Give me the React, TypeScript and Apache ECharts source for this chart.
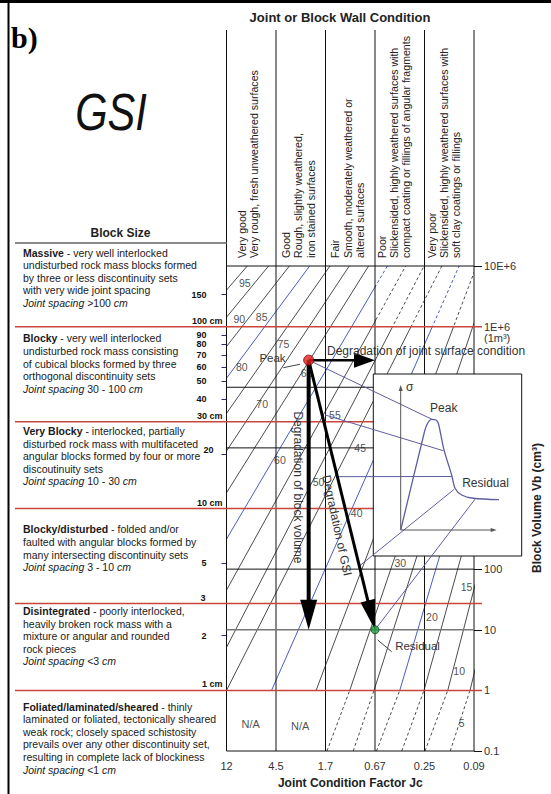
import React, { useEffect, useRef } from 'react';
import * as echarts from 'echarts';

// ---------------- DATA ----------------
const jcLabels = ['12', '4.5', '1.7', '0.67', '0.25', '0.09'];
const columnEdges = [0, 1, 2, 3, 4, 5];
const columnHeaders = [
  ['Very good', 'Very rough, fresh unweathered surfaces'],
  ['Good', 'Rough, slightly weathered,', 'iron stained surfaces'],
  ['Fair', 'Smooth, moderately weathered or', 'altered surfaces'],
  ['Poor', 'Slickensided, highly weathered surfaces with', 'compact coating or fillings of angular fragments'],
  ['Very poor', 'Slickensided, highly weathered surfaces with', 'soft clay coatings or fillings'],
];

// GSI contour lines: column position (Jc axis, in column units) where each line meets Vb = 1 and Vb = 1E+7
const gsiLevels = [95, 90, 85, 80, 75, 70, 65, 60, 55, 50, 45, 40, 35, 30, 25, 20, 15, 10, 5];
const gsiColAtVb1 = [-6.98, -6.19, -5.42, -4.67, -3.93, -3.21, -2.5, -1.8, -1.12, -0.45, 0.0, 0.91, 1.81, 2.49, 2.98, 3.5, 3.99, 4.47, 4.92];
const gsiColAtVb1e7 = [0.42, 0.85, 1.27, 1.68, 2.09, 2.48, 2.87, 3.25, 3.62, 3.99, 4.35, 4.7, 5.05, 5.39, 5.72, 6.05, 6.37, 6.69, 7.0];
// Foliated row (Vb 0.1 - 1): dashed lines
const foliatedLevels = [30, 25, 20, 15, 10, 5];
const foliatedColAtVb01 = [2.03, 2.56, 3.03, 3.54, 4.01, 4.52];
const foliatedColAtVb1 = [2.49, 2.98, 3.5, 3.99, 4.47, 4.92];

// GSI value labels
const gsiLabelValues = [95, 90, 85, 80, 75, 70, 65, 60, 55, 50, 45, 40, 30, 20, 15, 10, 5];
const gsiLabelCol = [0.37, 0.26, 0.71, 0.31, 1.15, 0.72, 1.62, 1.08, 2.19, 1.86, 2.7, 2.63, 3.51, 4.15, 4.85, 4.7, 4.75];
const gsiLabelVb = [5.19e6, 1.34e6, 1.46e6, 2.13e5, 5.16e5, 5.24e4, 1.74e5, 6310, 3.48e4, 2770, 9840, 853, 125, 16.4, 51.3, 2.11, 0.286];

const naCol = [0.49, 1.49];
const naVb = [0.28, 0.26];
const naText = ['N/A', 'N/A'];

// Block size (joint spacing, cm) axis, Vb = s^3
const spacingTicks = [150, 100, 90, 80, 70, 60, 50, 40, 30, 20, 10, 5, 3, 2, 1];
const spacingLabels = ['150', '100 cm', '90', '80', '70', '60', '50', '40', '30 cm', '20', '10 cm', '5', '3', '2', '1 cm'];
const classBoundaryCm = [100, 30, 10, 3, 1];

// Block volume axis (cm3)
const volumeTicks = [1e7, 1e6, 100, 10, 1, 0.1];
const volumeLabels = ['10E+6', '1E+6', '100', '10', '1', '0.1'];
const volumeGridLines = [1e7, 1e5, 1e4, 100, 0.1];
const volumeGrayLines = [10];

// Peak and residual states
const peakCol = 1.66;
const peakVb = 2.8e5;
const residualCol = 3.0;
const residualVb = 10;

// Projection lines from the chart to the stress-strain inset (main-chart coordinates)
const projFromCol = [1.66, 1.99, 2.22, 2.67, 3.0];
const projFromVb = [2.8e5, 3.5e4, 3350, 110, 10];
const projToCol = [4.15, 4.38, 4.55, 4.6, 5.02];
const projToVb = [2.96e4, 8980, 3370, 2075, 1420];

// Inset stress-strain sketch (arbitrary units)
const insetStrain = [0, 23.5, 27.1, 32.3, 36.8, 39.2, 45.1, 53.1, 56.6, 63.5, 75.6, 108.6];
const insetStress = [0, 64.3, 72.4, 76.3, 75.9, 73.6, 55.2, 37.9, 28.8, 24.1, 21.9, 20.8];

// ---------------- LAYOUT / STYLE ----------------
const FONT = '"Liberation Sans", Arial, Helvetica, sans-serif';
const X0 = 226.5;
const COLW = 49.5;
const YT = 266;
const DEC = 60.625;
const HEADER_TOP = 30;
const BLUE = '#4a5cc4';
const INK = '#1e1e1e';
const RED = '#c9463d';
const PURPLE = '#5d5da3';
const lg = (v: number) => Math.log10(v);

function arrow(api: any, a: number[], b: number[], lw: number, hl: number, hw: number, color: string) {
  const p1 = api.coord(a);
  const p2 = api.coord(b);
  const dx = p2[0] - p1[0];
  const dy = p2[1] - p1[1];
  const len = Math.hypot(dx, dy) || 1;
  const ux = dx / len, uy = dy / len;
  const nx = -uy, ny = ux;
  const bx = p2[0] - ux * hl, by = p2[1] - uy * hl;
  return {
    type: 'group',
    children: [
      { type: 'line', shape: { x1: p1[0], y1: p1[1], x2: bx + ux, y2: by + uy }, style: { stroke: color, lineWidth: lw } },
      {
        type: 'polygon',
        shape: { points: [[p2[0], p2[1]], [bx + (nx * hw) / 2, by + (ny * hw) / 2], [bx - (nx * hw) / 2, by - (ny * hw) / 2]] },
        style: { fill: color },
      },
    ],
  };
}

function buildOption() {
  const spacingVals = spacingTicks.map((s) => 3 * lg(s));
  const volumeVals = volumeTicks.map((v) => lg(v));

  const hLineData: number[][] = [];
  volumeGridLines.forEach((v) => hLineData.push([lg(v), 0]));
  volumeGrayLines.forEach((v) => hLineData.push([lg(v), 2]));
  classBoundaryCm.forEach((s) => hLineData.push([3 * lg(s), 1]));

  const gsiData = gsiLevels.map((g, i) => [g, gsiColAtVb1[i], gsiColAtVb1e7[i]]);
  const foliatedData = foliatedLevels.map((g, i) => [g, foliatedColAtVb01[i], foliatedColAtVb1[i]]);

  const gsiRender = (dashed: boolean, yLo: number, yHi: number, allowBlue: boolean) => (params: any, api: any) => {
    const g = api.value(0);
    const p1 = api.coord([api.value(1), yLo]);
    const p2 = api.coord([api.value(2), yHi]);
    const blue = allowBlue && g % 20 === 0;
    return {
      type: 'line',
      shape: { x1: p1[0], y1: p1[1], x2: p2[0], y2: p2[1] },
      style: { stroke: blue ? BLUE : INK, lineWidth: blue ? 1 : 0.8, lineDash: dashed ? [3, 2.5] : undefined },
    };
  };

  const mainArrows = [
    [peakCol, lg(peakVb), residualCol, lg(peakVb)],
    [peakCol, lg(peakVb), peakCol, lg(residualVb)],
    [peakCol, lg(peakVb), residualCol, lg(residualVb)],
  ];
  const arrowStyle = [
    { lw: 2.5, hl: 21, hw: 15 },
    { lw: 4, hl: 30, hw: 17 },
    { lw: 3, hl: 30, hw: 15 },
  ];

  // ---------- graphic (texts & frame) ----------
  const g: any[] = [];
  const text = (x: number, y: number, t: string, o: any = {}) =>
    g.push({
      type: 'text',
      x,
      y,
      z: 50,
      rotation: o.rotation || 0,
      scaleX: o.scaleX || 1,
      silent: true,
      style: {
        text: t,
        fill: o.color || '#222',
        fontFamily: o.fontFamily || FONT,
        fontSize: o.fontSize || 11,
        fontWeight: o.fontWeight || 'normal',
        fontStyle: o.fontStyle || 'normal',
        align: o.align || 'center',
        verticalAlign: o.verticalAlign || 'middle',
        lineHeight: o.lineHeight,
        rich: o.rich,
      },
    });
  const line = (x1: number, y1: number, x2: number, y2: number, color: string, lw: number) =>
    g.push({ type: 'line', z: 50, silent: true, shape: { x1, y1, x2, y2 }, style: { stroke: color, lineWidth: lw } });

  // frame
  line(0, 1.5, 551, 1.5, '#000', 3);
  line(8.5, 0, 8.5, 794, '#000', 2);
  line(15, 243, X0, 243, '#8a8a8a', 2);

  text(11, 37, 'b)', { fontFamily: '"Liberation Serif", "Times New Roman", serif', fontSize: 30, fontWeight: 'bold', align: 'left', color: '#000' });
  text(340, 17, 'Joint or Block Wall Condition', { fontSize: 13, fontWeight: 'bold', color: '#222' });
  text(111, 112, 'GSI', { fontSize: 52, fontStyle: 'italic', scaleX: 0.8, color: '#111' });
  text(120.5, 233, 'Block Size', { fontSize: 12, fontWeight: 'bold', color: '#222' });

  // column headers
  const headerX = [[241.5, 253.5], [285.5, 298, 310.5], [335, 347.5, 360], [382, 394, 406], [432, 444, 456]];
  columnHeaders.forEach((lines, ci) =>
    lines.forEach((t, li) => text(headerX[ci][li], 258, t, { rotation: Math.PI / 2, align: 'left', fontSize: 10.6, color: '#222' }))
  );

  // left block descriptions
  const rich = {
    b: { fontFamily: FONT, fontSize: 10.5, fontWeight: 'bold', lineHeight: 12.6, fill: '#1a1a1a' },
    i: { fontFamily: FONT, fontSize: 10.5, fontStyle: 'italic', lineHeight: 12.6, fill: '#1a1a1a' },
  };
  const blocks = [
    {
      y: 246.4,
      t: [
        '{b|Massive} - very well interlocked',
        'undisturbed rock mass blocks formed',
        'by three or less discontinuity sets',
        'with very wide joint spacing',
        '{i|Joint spacing} >100 {i|cm}',
      ],
    },
    {
      y: 332,
      t: [
        '{b|Blocky} - very well interlocked',
        'undisturbed rock mass consisting',
        'of cubical blocks formed by three',
        'orthogonal discontinuity sets',
        '{i|Joint spacing} 30 - 100 {i|cm}',
      ],
    },
    {
      y: 424.7,
      t: [
        '{b|Very Blocky} - interlocked, partially',
        'disturbed rock mass with multifaceted',
        'angular blocks formed by four or more',
        'discoutinuity sets',
        '{i|Joint spacing} 10 - 30 {i|cm}',
      ],
    },
    {
      y: 523,
      t: [
        '{b|Blocky/disturbed} - folded and/or',
        'faulted with angular blocks formed by',
        'many intersecting discontinuity sets',
        '{i|Joint spacing} 3 - 10 {i|cm}',
      ],
    },
    {
      y: 604.7,
      t: [
        '{b|Disintegrated} - poorly interlocked,',
        'heavily broken rock mass with a',
        'mixture or angular and rounded',
        'rock pieces',
        '{i|Joint spacing} <3 {i|cm}',
      ],
    },
    {
      y: 700.4,
      t: [
        '{b|Foliated/laminated/sheared} - thinly',
        'laminated or foliated, tectonically sheared',
        'weak rock; closely spaced schistosity',
        'prevails over any other discontinuity set,',
        'resulting in complete lack of blockiness',
        '{i|Joint spacing} <1 {i|cm}',
      ],
    },
  ];
  blocks.forEach((b) =>
    text(23, b.y, b.t.join('\n'), { align: 'left', verticalAlign: 'top', fontSize: 10.5, lineHeight: 12.6, color: '#1a1a1a', rich })
  );

  // annotations
  text(327, 351, 'Degradation of joint surface condition', { align: 'left', fontSize: 12, color: '#333' });
  text(297.5, 487.5, 'Degradation of block volume', { rotation: -Math.PI / 2, fontSize: 12, color: '#333' });
  text(337, 525.5, 'Degradation of GSI', { rotation: -1.36, fontSize: 12, color: '#333' });
  text(272.5, 357.5, 'Peak', { fontSize: 11.5, color: '#333' });
  line(283.3, 367.7, 300, 364.3, '#444', 1);
  text(417.5, 646, 'Residual', { fontSize: 11.5, color: '#333' });
  line(377.7, 640, 391.7, 651.7, '#444', 1);
  text(537, 508, 'Block Volume Vb (cm³)', { rotation: Math.PI / 2, fontSize: 12, fontWeight: 'bold', color: '#222' });
  // inset texts
  text(409.7, 387, 'σ', { fontSize: 12, color: '#333' });
  text(443.7, 408, 'Peak', { fontSize: 12, color: '#333' });
  text(485.5, 482.7, 'Residual', { fontSize: 12, color: '#333' });

  const hidden = { show: false };
  const option: any = {
    animation: false,
    backgroundColor: '#fff',
    textStyle: { fontFamily: FONT },
    grid: [
      { left: X0, top: YT, width: 5 * COLW, height: 8 * DEC },
      { left: X0, top: YT + DEC, width: 5 * COLW, height: 6 * DEC },
      { left: X0, top: YT, width: 3 * COLW, height: DEC },
      { left: X0 + 3 * COLW, top: YT, width: 2 * COLW, height: DEC },
      { left: X0 + 2 * COLW, top: YT + 7 * DEC, width: 3 * COLW, height: DEC },
      { left: 373.3, top: 374, width: 148.4, height: 182, show: true, backgroundColor: '#fff', borderColor: '#111', borderWidth: 1, z: 10 },
      { left: 400.7, top: 385, width: 96, height: 145 },
    ],
    xAxis: [
      {
        gridIndex: 0,
        type: 'value',
        min: 0,
        max: 5,
        interval: 1,
        position: 'bottom',
        axisLine: { show: false },
        axisTick: { show: false },
        splitLine: { show: false },
        axisLabel: { formatter: (v: number) => jcLabels[Math.round(v)] ?? '', fontSize: 11, color: '#333', margin: 9 },
        name: 'Joint Condition Factor Jc',
        nameLocation: 'middle',
        nameGap: 26,
        nameTextStyle: { fontWeight: 'bold', fontSize: 12, color: '#222' },
      },
      { gridIndex: 1, type: 'value', min: 0, max: 5, ...hidden },
      { gridIndex: 2, type: 'value', min: 0, max: 3, ...hidden },
      { gridIndex: 3, type: 'value', min: 3, max: 5, ...hidden },
      { gridIndex: 4, type: 'value', min: 2, max: 5, ...hidden },
      { gridIndex: 5, type: 'value', min: 0, max: 1, ...hidden },
      { gridIndex: 6, type: 'value', min: 0, max: 100, ...hidden },
    ],
    yAxis: [
      {
        gridIndex: 0,
        type: 'value',
        min: -1,
        max: 7,
        position: 'left',
        axisLine: { show: false },
        splitLine: { show: false },
        axisTick: { show: true, customValues: spacingVals, length: 5, lineStyle: { color: '#2d2d6e', width: 1 } },
        axisLabel: {
          show: true,
          customValues: spacingVals,
          margin: 4,
          formatter: (v: number) => {
            const i = spacingVals.findIndex((x) => Math.abs(x - v) < 1e-3);
            if (i < 0) return '';
            const t = spacingLabels[i];
            if (t.indexOf('cm') >= 0) return `{c|${t}}`;
            if (t === '3') return `{r|${t}}`;
            if (t === '20') return `{q|${t}}`;
            return `{n|${t}}`;
          },
          rich: {
            n: { fontFamily: FONT, fontSize: 9, fontWeight: 'bold', color: '#111', padding: [0, 16, 0, 0] },
            c: { fontFamily: FONT, fontSize: 9, fontWeight: 'bold', color: '#111', padding: [0, 0, 12, 0] },
            r: { fontFamily: FONT, fontSize: 9, fontWeight: 'bold', color: '#111', padding: [0, 17, 12, 0] },
            q: { fontFamily: FONT, fontSize: 9, fontWeight: 'bold', color: '#111', padding: [0, 9, 8, 0] },
          },
        },
      },
      {
        gridIndex: 0,
        type: 'value',
        min: -1,
        max: 7,
        position: 'right',
        axisLine: { show: false },
        splitLine: { show: false },
        axisTick: { show: true, customValues: volumeVals, length: 8, lineStyle: { color: '#111', width: 1 } },
        axisLabel: {
          show: true,
          customValues: volumeVals,
          margin: 10,
          formatter: (v: number) => {
            const i = volumeVals.findIndex((x) => Math.abs(x - v) < 1e-3);
            if (i < 0) return '';
            if (volumeLabels[i] === '1E+6') return '{sp| }\n{t|1E+6}\n{u|(1m³)}';
            return `{t|${volumeLabels[i]}}`;
          },
          rich: {
            sp: { fontFamily: FONT, fontSize: 10, lineHeight: 10 },
            t: { fontFamily: FONT, fontSize: 11, lineHeight: 12, color: '#333' },
            u: { fontFamily: FONT, fontSize: 11, lineHeight: 10, color: '#333' },
          },
        },
      },
      { gridIndex: 1, type: 'value', min: 0, max: 6, ...hidden },
      { gridIndex: 2, type: 'value', min: 6, max: 7, ...hidden },
      { gridIndex: 3, type: 'value', min: 6, max: 7, ...hidden },
      { gridIndex: 4, type: 'value', min: -1, max: 0, ...hidden },
      { gridIndex: 5, type: 'value', min: 0, max: 1, ...hidden },
      { gridIndex: 6, type: 'value', min: 0, max: 100, ...hidden },
    ],
    graphic: { elements: g },
    series: [
      // GSI contour lines
      { type: 'custom', xAxisIndex: 1, yAxisIndex: 2, clip: true, z: 2, silent: true, data: gsiData, renderItem: gsiRender(false, 0, 7, true) },
      { type: 'custom', xAxisIndex: 2, yAxisIndex: 3, clip: true, z: 2, silent: true, data: gsiData, renderItem: gsiRender(false, 0, 7, true) },
      { type: 'custom', xAxisIndex: 3, yAxisIndex: 4, clip: true, z: 2, silent: true, data: gsiData, renderItem: gsiRender(true, 0, 7, true) },
      { type: 'custom', xAxisIndex: 4, yAxisIndex: 5, clip: true, z: 2, silent: true, data: foliatedData, renderItem: gsiRender(true, -1, 0, false) },
      // column lines
      {
        type: 'custom',
        xAxisIndex: 0,
        yAxisIndex: 0,
        z: 3,
        silent: true,
        data: columnEdges.map((c) => [c, -1]),
        renderItem: (p: any, api: any) => {
          const pt = api.coord([api.value(0), -1]);
          return { type: 'line', shape: { x1: pt[0], y1: HEADER_TOP, x2: pt[0], y2: pt[1] }, style: { stroke: '#111', lineWidth: 1 } };
        },
      },
      // horizontal lines
      {
        type: 'custom',
        xAxisIndex: 0,
        yAxisIndex: 0,
        z: 3,
        silent: true,
        data: hLineData.map((r) => [0, r[0], r[1]]),
        renderItem: (p: any, api: any) => {
          const yv = api.value(1);
          const kind = api.value(2);
          const a = api.coord([0, yv]);
          const b = api.coord([5, yv]);
          const x1 = kind === 1 ? 15 : a[0];
          const x2 = kind === 1 ? b[0] + 8 : b[0];
          const color = kind === 1 ? RED : kind === 2 ? '#777' : '#111';
          return { type: 'line', shape: { x1, y1: a[1], x2, y2: a[1] }, style: { stroke: color, lineWidth: kind === 0 ? 1 : 1.5 } };
        },
      },
      // GSI labels
      {
        type: 'scatter',
        xAxisIndex: 0,
        yAxisIndex: 0,
        z: 4,
        silent: true,
        symbolSize: 0,
        data: gsiLabelValues.map((v, i) => [gsiLabelCol[i], lg(gsiLabelVb[i])]),
        label: { show: true, position: 'inside', formatter: (p: any) => String(gsiLabelValues[p.dataIndex]), fontSize: 10.5, color: '#222' },
      },
      {
        type: 'scatter',
        xAxisIndex: 0,
        yAxisIndex: 0,
        z: 4,
        silent: true,
        symbolSize: 0,
        data: naCol.map((c, i) => [c, lg(naVb[i])]),
        label: { show: true, position: 'inside', formatter: (p: any) => naText[p.dataIndex], fontSize: 11, color: '#222' },
      },
      // projection lines to inset
      {
        type: 'custom',
        xAxisIndex: 0,
        yAxisIndex: 0,
        z: 15,
        silent: true,
        data: projFromCol.map((c, i) => [c, lg(projFromVb[i]), projToCol[i], lg(projToVb[i])]),
        renderItem: (p: any, api: any) => {
          const a = api.coord([api.value(0), api.value(1)]);
          const b = api.coord([api.value(2), api.value(3)]);
          return { type: 'line', shape: { x1: a[0], y1: a[1], x2: b[0], y2: b[1] }, style: { stroke: PURPLE, lineWidth: 1 } };
        },
      },
      // inset curve
      {
        type: 'line',
        xAxisIndex: 6,
        yAxisIndex: 7,
        z: 15,
        silent: true,
        clip: false,
        smooth: 0.3,
        showSymbol: false,
        symbol: 'none',
        lineStyle: { color: PURPLE, width: 1.3 },
        data: insetStrain.map((s, i) => [s, insetStress[i]]),
      },
      // inset axes
      {
        type: 'custom',
        xAxisIndex: 6,
        yAxisIndex: 7,
        z: 15,
        silent: true,
        data: [
          [0, 0, 0, 100],
          [0, 0, 100, 0],
        ],
        renderItem: (p: any, api: any) =>
          arrow(api, [api.value(0), api.value(1)], [api.value(2), api.value(3)], 1, 6, 4, '#555'),
      },
      // degradation arrows
      {
        type: 'custom',
        xAxisIndex: 0,
        yAxisIndex: 0,
        z: 20,
        silent: true,
        data: mainArrows,
        renderItem: (p: any, api: any) => {
          const s = arrowStyle[p.dataIndex];
          return arrow(api, [api.value(0), api.value(1)], [api.value(2), api.value(3)], s.lw, s.hl, s.hw, '#000');
        },
      },
      // peak / residual points
      {
        type: 'scatter',
        xAxisIndex: 0,
        yAxisIndex: 0,
        z: 30,
        silent: true,
        data: [
          { value: [peakCol, lg(peakVb)], symbolSize: 10, itemStyle: { color: '#e3201b', borderColor: '#7a0000', borderWidth: 1 } },
          { value: [residualCol, lg(residualVb)], symbolSize: 8, itemStyle: { color: '#1fa040', borderColor: '#0a4a1a', borderWidth: 1 } },
        ],
      },
    ],
  };
  return option;
}

export default function App() {
  const ref = useRef<HTMLDivElement>(null);
  useEffect(() => {
    const chart = echarts.init(ref.current as HTMLDivElement, null, { renderer: 'svg' });
    chart.setOption(buildOption());
    return () => chart.dispose();
  }, []);
  return <div ref={ref} style={{ position: 'fixed', left: 0, top: 0, width: 551, height: 794, background: '#fff' }} />;
}
